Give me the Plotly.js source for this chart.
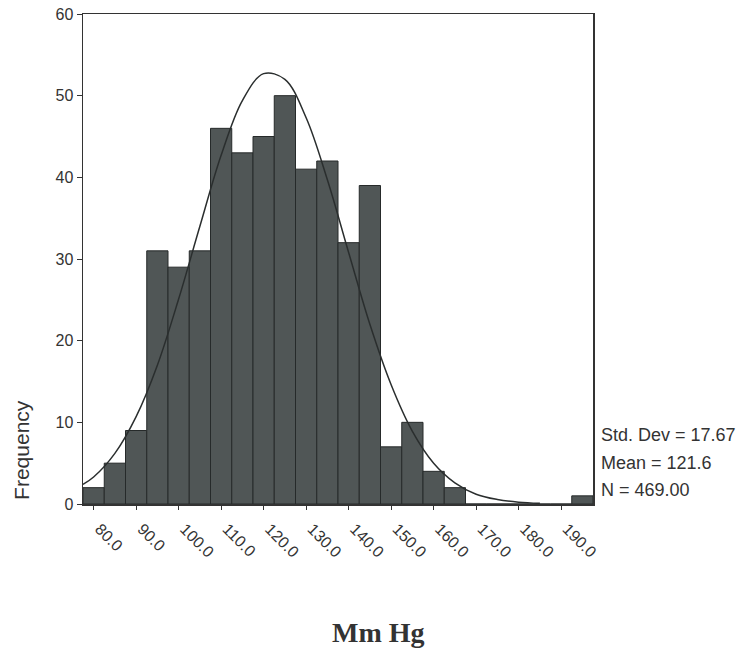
<!DOCTYPE html>
<html>
<head>
<meta charset="utf-8">
<script src="https://cdn.plot.ly/plotly-3.0.1.min.js"></script>
<style>html,body{margin:0;padding:0;background:#fff;}#chart{width:743px;height:651px;}</style>
</head>
<body>
<div id="chart"></div>
<script>
// Bin centres (Mm Hg) and frequencies
const binCenters = [80, 85, 90, 95, 100, 105, 110, 115, 120, 125, 130, 135, 140, 145, 150, 155, 160, 165, 170, 175, 180, 185, 190, 195];
const frequencies = [2, 5, 9, 31, 29, 31, 46, 43, 45, 50, 41, 42, 32, 39, 7, 10, 4, 2, 0, 0, 0, 0, 0, 1];
// Normal curve heights
const curveX = [77.5, 80, 85, 90, 95, 100, 105, 110, 115, 120, 125, 130, 135, 140, 145, 150, 155, 160, 165, 170, 175, 180, 185];
const curveY = [2.4, 3.3, 6.2, 10.7, 17.0, 25.1, 34.0, 42.7, 49.4, 52.7, 52.0, 47.3, 39.7, 30.8, 22.0, 14.6, 8.9, 5.0, 2.6, 1.2, 0.55, 0.22, 0.08];
const tickVals = [80, 90, 100, 110, 120, 130, 140, 150, 160, 170, 180, 190];
const tickText = ["80.0", "90.0", "100.0", "110.0", "120.0", "130.0", "140.0", "150.0", "160.0", "170.0", "180.0", "190.0"];
const statLines = ["Std. Dev = 17.67", "Mean = 121.6", "N = 469.00"];

const bars = {
  type: 'bar', x: binCenters, y: frequencies, width: 5,
  marker: {color: '#505656', line: {color: '#262a2a', width: 1}},
  hoverinfo: 'x+y'
};
const curve = {
  type: 'scatter', mode: 'lines', x: curveX, y: curveY,
  line: {color: '#2a2e2e', width: 1.5, shape: 'spline'}
};

const sans = 'Liberation Sans, Arial, sans-serif';
const annotations = [
  {text: 'Frequency', xref: 'paper', yref: 'paper', x: -0.122, y: 0.11, xanchor: 'center', yanchor: 'middle',
   textangle: -90, showarrow: false, font: {family: sans, size: 21, color: '#333'}},
  {text: '<b>Mm Hg</b>', xref: 'paper', yref: 'paper', x: 0.58, y: -0.263, xanchor: 'center', yanchor: 'middle',
   showarrow: false, font: {family: 'Liberation Serif, Times New Roman, serif', size: 28, color: '#333'}}
];
const statY = [0.141, 0.084, 0.029];
statLines.forEach((t, i) => annotations.push({
  text: t, xref: 'paper', yref: 'paper', x: 1.012, y: statY[i], xanchor: 'left', yanchor: 'middle',
  showarrow: false, font: {family: sans, size: 18, color: '#333'}
}));

const layout = {
  width: 743, height: 651,
  margin: {l: 83, r: 150, t: 14, b: 147},
  paper_bgcolor: '#fff', plot_bgcolor: '#fff',
  showlegend: false, bargap: 0,
  xaxis: {range: [77.5, 197.5], tickvals: tickVals, ticktext: tickText, tickangle: 45,
    ticks: 'outside', ticklen: 4, tickcolor: '#333', showgrid: false, zeroline: false,
    showline: true, linecolor: '#333', linewidth: 1.5, mirror: true,
    ticklabelshift: 6, ticklabelstandoff: 4,
    tickfont: {family: sans, size: 16, color: '#333'}},
  yaxis: {range: [0, 60], dtick: 10, ticks: 'outside', ticklen: 5, tickcolor: '#333',
    showgrid: false, zeroline: false, showline: true, linecolor: '#333', linewidth: 1.5, mirror: true,
    tickfont: {family: sans, size: 16, color: '#333'}},
  annotations: annotations
};
Plotly.newPlot('chart', [bars, curve], layout, {displayModeBar: false, staticPlot: true});
</script>
</body>
</html>
